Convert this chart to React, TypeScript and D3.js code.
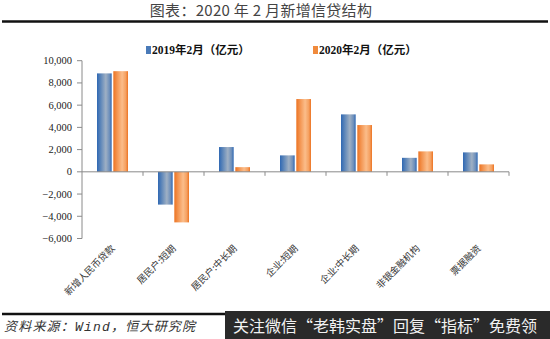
import React from "react";
import * as d3 from "d3";

const categories = ["新增人民币贷款", "居民户:短期", "居民户:中长期", "企业:短期", "企业:中长期", "非银金融机构", "票据融资"];
const series2019 = [8858, -2950, 2230, 1480, 5170, 1260, 1750];
const series2020 = [9057, -4550, 420, 6550, 4210, 1840, 670];
const seriesNames = ["2019年2月（亿元）", "2020年2月（亿元）"];
const yTicks = [-6000, -4000, -2000, 0, 2000, 4000, 6000, 8000, 10000];

const W = 550, H = 339;
const plotLeft = 82, plotRight = 509, plotTop = 60.7, plotBottom = 238.5;

export default function App() {
  const y = d3.scaleLinear().domain([-6000, 10000]).range([plotBottom, plotTop]);
  const x = d3.scaleBand<string>().domain(categories).range([plotLeft, plotRight]).paddingInner(0).paddingOuter(0);
  const inner = d3.scaleBand<string>().domain(["a", "b"]).range([0, 31]).paddingInner(0.1);
  const fmt = d3.format(",");
  const serif = "'Liberation Serif', 'Times New Roman', serif";
  const cjk = "'Noto Sans CJK SC', sans-serif";
  const mono = "'Liberation Mono', 'DejaVu Sans Mono', monospace";
  const seriesData = [series2019, series2020];
  const grads = ["gBlue", "gOrange"];
  const legendColors = ["#4a7ab8", "#f08a3c"];
  return (
    <svg width={W} height={H} style={{ position: "absolute", left: 0, top: 0, background: "#fff" }}>
      <defs>
        <linearGradient id="gBlue" x1="0" x2="1" y1="0" y2="0">
          <stop offset="0%" stopColor="#2f68b3" />
          <stop offset="25%" stopColor="#5d86b9" />
          <stop offset="60%" stopColor="#9fb0c4" />
          <stop offset="85%" stopColor="#6d8fbb" />
          <stop offset="100%" stopColor="#2f68b3" />
        </linearGradient>
        <linearGradient id="gOrange" x1="0" x2="1" y1="0" y2="0">
          <stop offset="0%" stopColor="#ec7322" />
          <stop offset="25%" stopColor="#f39450" />
          <stop offset="60%" stopColor="#fbbd8a" />
          <stop offset="85%" stopColor="#f5a060" />
          <stop offset="100%" stopColor="#ec7322" />
        </linearGradient>
      </defs>
      <rect x={0} y={0} width={W} height={H} fill="#fff" />
      <text x={261} y={16} textAnchor="middle" fontSize={15} fill="#444" fontFamily={cjk} letterSpacing={0.3}>
        图表：2020 年 2 月新增信贷结构
      </text>
      <line x1={2} x2={548} y1={21.5} y2={21.5} stroke="#111" strokeWidth={2.5} />

      {/* legend */}
      {seriesNames.map((n, i) => {
        const lx = i === 0 ? 146 : 313;
        return (
          <g key={n}>
            <rect x={lx} y={46} width={5} height={8} fill={legendColors[i]} />
            <text x={lx + 6} y={54} fontSize={11.5} fontWeight="bold" fontFamily={serif} fill="#111">
              <tspan fontFamily={serif}>{n.slice(0, 4)}</tspan>
              <tspan fontFamily={cjk}>年</tspan>
              <tspan fontFamily={serif}>2</tspan>
              <tspan fontFamily={cjk}>月（亿元）</tspan>
            </text>
          </g>
        );
      })}

      {/* y axis */}
      <line x1={plotLeft} x2={plotLeft} y1={plotTop} y2={plotBottom} stroke="#8a8a8a" strokeWidth={1} />
      {yTicks.map((t) => (
        <g key={t}>
          <line x1={plotLeft - 5} x2={plotLeft} y1={y(t)} y2={y(t)} stroke="#8a8a8a" />
          <text x={72} y={y(t) + 3.5} textAnchor="end" fontSize={10.5} fontFamily={serif} fill="#222">
            {fmt(t)}
          </text>
        </g>
      ))}

      {/* bars */}
      {categories.map((c, ci) => {
        const x0 = (x(c) as number) + (x.bandwidth() - 31) / 2;
        return (
          <g key={c}>
            {seriesData.map((s, si) => {
              const v = s[ci];
              const bx = x0 + (inner(si === 0 ? "a" : "b") as number);
              const top = Math.min(y(v), y(0));
              const h = Math.abs(y(v) - y(0));
              return <rect key={si} x={bx} y={top} width={inner.bandwidth()} height={h} fill={`url(#${grads[si]})`} />;
            })}
          </g>
        );
      })}

      {/* zero axis */}
      <line x1={plotLeft} x2={plotRight} y1={y(0)} y2={y(0)} stroke="#8a8a8a" strokeWidth={1} />
      {categories.map((c) => (
        <line key={c} x1={(x(c) as number) + x.bandwidth()} x2={(x(c) as number) + x.bandwidth()} y1={y(0)} y2={y(0) + 4} stroke="#8a8a8a" />
      ))}

      {/* category labels */}
      {categories.map((c) => {
        const cx = (x(c) as number) + x.bandwidth() / 2 + 3;
        const cy = 249;
        return (
          <text key={c} x={cx} y={cy} transform={`rotate(-45 ${cx} ${cy})`} textAnchor="end" fontSize={9.5} fontFamily={cjk} fill="#333">
            {c}
          </text>
        );
      })}

      <line x1={2} x2={548} y1={314} y2={314} stroke="#111" strokeWidth={2.5} />
      <text x={4} y={331} fontSize={13} fontStyle="italic" fontFamily={cjk} fill="#333" letterSpacing={1.2}>
        资料来源：<tspan fontFamily={mono}>Wind</tspan>，恒大研究院
      </text>

      {/* watermark band */}
      <rect x={225} y={311} width={325} height={28} fill="#2a2a2a" />
      <text x={233} y={332} fontSize={16} fontFamily={cjk} fill="#f2f2f2">
        关注微信“老韩实盘”回复“指标”免费领
      </text>
    </svg>
  );
}
